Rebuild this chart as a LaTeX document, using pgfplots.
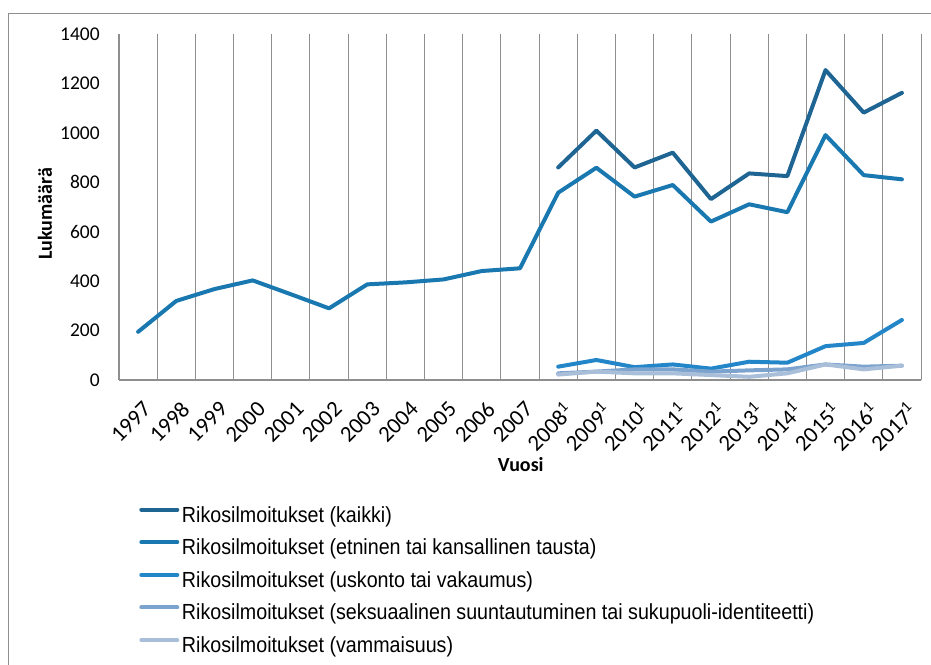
\documentclass[border=0pt]{standalone}
\usepackage{fontspec}
\setmainfont{Liberation Sans}
\newfontfamily\calibri{Carlito}
\newfontfamily\legfont[FakeStretch=0.9]{Liberation Sans}
\usepackage{pgfplots}
\pgfplotsset{compat=1.18}
\definecolor{cA}{HTML}{1F6593}
\definecolor{cB}{HTML}{1A78B0}
\definecolor{cC}{HTML}{2386C8}
\definecolor{cD}{HTML}{7BA3CE}
\definecolor{cE}{HTML}{A8BED9}
\definecolor{gridc}{HTML}{8E8E8E}
\begin{document}
\begin{tikzpicture}
\path[use as bounding box] (0,0) rectangle (698.25pt,-498pt);
\begin{scope}
\clip (0,0) rectangle (698.25pt,-498pt);
\draw[color=gridc, line width=0.75pt] (6pt,-9.75pt) rectangle (720pt,-520pt);
\end{scope}
\begin{axis}[
  at={(89.25pt,-285pt)}, anchor=south west,
  scale only axis, width=601.5pt, height=259.5pt,
  xmin=-0.5, xmax=20.5, ymin=0, ymax=1400,
  ytick={0,200,...,1400},
  xtick={0,...,20},
  xticklabels={1997,1998,1999,2000,2001,2002,2003,2004,2005,2006,2007,
    2008\textsuperscript{1},2009\textsuperscript{1},2010\textsuperscript{1},2011\textsuperscript{1},2012\textsuperscript{1},
    2013\textsuperscript{1},2014\textsuperscript{1},2015\textsuperscript{1},2016\textsuperscript{1},2017\textsuperscript{1}},
  minor xtick={-0.5,0.5,...,20.5},
  xminorgrids,
  minor grid style={gridc, line width=0.75pt},
  axis x line*=bottom, axis y line*=left,
  axis line style={gridc, line width=0.9pt},
  major tick length=0pt, minor tick length=0pt,
  /pgf/number format/assume math mode=true,
  /pgf/number format/1000 sep={},
  yticklabel style={font=\calibri\fontsize{14.6}{16}\selectfont, anchor=east, xshift=-11pt},
  xticklabel style={font=\calibri\fontsize{17}{19}\selectfont, rotate=45, anchor=north east, inner sep=0pt, yshift=-12.6pt, xshift=-8.6pt},
  xlabel={Vuosi},
  ylabel={Lukumäärä},
  xlabel style={at={(axis description cs:0.501,-0.243)}, anchor=center, font=\calibri\bfseries\fontsize{15}{17}\selectfont},
  ylabel style={at={(axis description cs:-0.0923,0.48)}, anchor=center, rotate=0, font=\calibri\bfseries\fontsize{15}{17}\selectfont},
  legend style={at={(axis description cs:0.020,-0.357)}, anchor=north west, draw=none, fill=none,
    font=\legfont\fontsize{16.4}{18}\selectfont, row sep=9.7pt, column sep=2pt,
    nodes={inner sep=0pt, text height=11.75pt, text depth=3pt}},
  legend cell align=left,
  legend image code/.code={\draw[#1, line width=3pt, line cap=round] (1.5pt,5pt) -- (28.5pt,5pt);},
  every axis plot/.append style={line width=3pt, line cap=round, line join=round},
]
\addplot[cA] coordinates {(11,860) (12,1009) (13,860) (14,920) (15,732) (16,836) (17,825) (18,1254) (19,1082) (20,1162)};
\addlegendentry{Rikosilmoitukset (kaikki)}
\addplot[cB] coordinates {(0,195) (1,320) (2,368) (3,403) (4,347) (5,290) (6,387) (7,395) (8,407) (9,441) (10,452) (11,758) (12,859) (13,742) (14,789) (15,641) (16,711) (17,679) (18,991) (19,829) (20,812)};
\addlegendentry{Rikosilmoitukset (etninen tai kansallinen tausta)}
\addplot[cC] coordinates {(11,54) (12,81) (13,52) (14,63) (15,46) (16,74) (17,70) (18,137) (19,150) (20,243)};
\addlegendentry{Rikosilmoitukset (uskonto tai vakaumus)}
\addplot[cD] coordinates {(11,27) (12,34) (13,43) (14,43) (15,34) (16,39) (17,43) (18,63) (19,54) (20,58)};
\addlegendentry{Rikosilmoitukset (seksuaalinen suuntautuminen tai sukupuoli-identiteetti)}
\addplot[cE] coordinates {(11,22) (12,34) (13,27) (14,27) (15,20) (16,13) (17,27) (18,63) (19,43) (20,58)};
\addlegendentry{Rikosilmoitukset (vammaisuus)}
\end{axis}
\end{tikzpicture}
\end{document}
